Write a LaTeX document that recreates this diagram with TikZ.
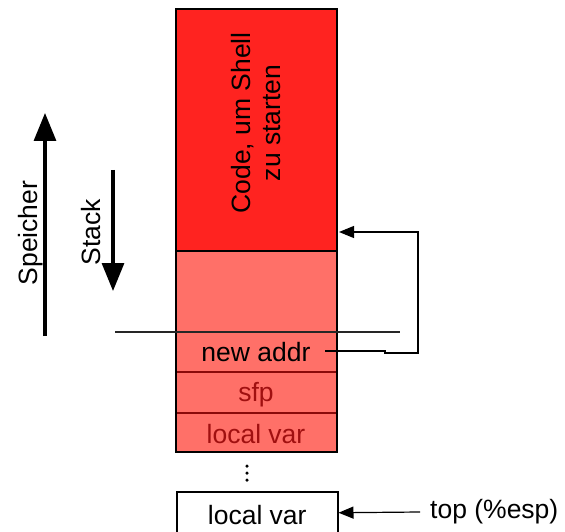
\documentclass[tikz,border=0pt]{standalone}
\usepackage{fontspec}
\setmainfont{Liberation Sans}
\usetikzlibrary{arrows.meta}
\definecolor{hot}{HTML}{FF2320}
\definecolor{light}{HTML}{FF7068}
\definecolor{dred}{HTML}{8A0A0A}
\definecolor{tred}{HTML}{A01010}
\begin{document}
\begin{tikzpicture}[x=1pt,y=-1pt,
  txt/.style={font=\fontsize{26.5}{30}\selectfont, inner sep=0pt},
  cell/.style={draw=dred, line width=1.2pt},
  thin/.style={line width=1.2pt, draw=black!85},
  big/.style={line width=3.2pt, -{Triangle[length=28pt,width=22pt]}},
  ptr/.style={line width=1.2pt, -{Triangle[length=15pt,width=12pt]}},
  dot/.style={circle, fill=black, inner sep=0pt, minimum size=3.5pt}]
\useasboundingbox (0,0) rectangle (565,532);
% cells
\fill[hot] (176,9) rectangle (337,251);
\fill[light] (176,251) rectangle (337,452);
\draw[cell] (176,372) -- (337,372);
\draw[cell] (176,413) -- (337,413);
\draw[line width=1.5pt] (176,9) rectangle (337,452);
\draw[line width=1.5pt] (176,251) -- (337,251);
\node[txt, rotate=90, align=center] (code) at (256,123) {Code, um Shell\\zu starten};
\node[txt] (addr) at (256,352) {new addr};
\node[txt, text=tred] (sfp) at (256,395) {sfp};
\node[txt, text=tred] (lv1) at (256,434) {local var};
\node[dot] (d1) at (247,466) {};
\node[dot] (d2) at (247,473) {};
\node[dot] (d3) at (247,480) {};
% bottom box
\node[draw, line width=1.5pt, minimum width=161pt, minimum height=42pt, anchor=north west, inner sep=0pt] (lv2) at (176,491) {};
\node[txt] (lv2t) at ([yshift=-2pt]lv2.center) {local var};
% separating line
\coordinate (l1) at (115,332);
\coordinate (l2) at (400,332);
\draw[thin] (l1) -- (l2);
% pointer from new addr
\coordinate (p0) at (325,351);
\coordinate (p1) at (385,351);
\coordinate (p2) at (385,353);
\coordinate (p3) at (418,353);
\coordinate (p4) at (418,232);
\coordinate (p5) at (339,232);
\draw[ptr] (p0) -- (p1) -- (p2) -- (p3) -- (p4) -- (p5);
% top pointer
\node[txt, anchor=west] (top) at (430,512) {top (\%esp)};
\coordinate (t0) at (420,512);
\draw[ptr] (t0) -- (lv2.east);
% left arrows
\coordinate (s0) at (45,336);
\coordinate (s1) at (45,113);
\draw[big] (s0) -- (s1);
\node[txt, rotate=90] (sp) at (31,233) {Speicher};
\coordinate (k0) at (113,170);
\coordinate (k1) at (113,291);
\draw[big] (k0) -- (k1);
\node[txt, rotate=90] (st) at (91,232) {Stack};
\end{tikzpicture}
\end{document}
